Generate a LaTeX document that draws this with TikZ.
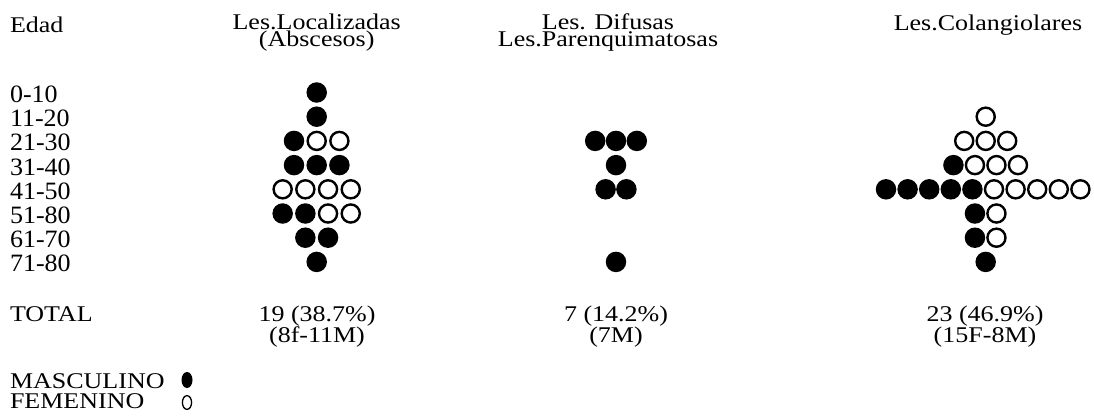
\documentclass[tikz,border=0pt]{standalone}
\usepackage{fontspec}
\setmainfont{Liberation Serif}
\usetikzlibrary{shapes.geometric}
\lineskiplimit=-30pt
\begin{document}
\begin{tikzpicture}[x=1pt,y=-1pt,
  txt/.style={inner sep=0pt, outer sep=0pt, font=\fontsize{26}{26}\selectfont, yscale=0.96},
  sq/.style={txt, yscale=0.9},
  hdr/.style={sq, align=center, font=\fontsize{26}{20}\selectfont},
  tot/.style={sq, align=center, font=\fontsize{26}{23.5}\selectfont},
  fdot/.style={circle, fill=black, minimum size=20.5pt, inner sep=0pt},
  odot/.style={circle, draw=black, line width=2.4pt, minimum size=18.1pt, inner sep=0pt},
  fleg/.style={ellipse, fill=black, minimum width=11pt, minimum height=16pt, inner sep=0pt},
  oleg/.style={ellipse, draw=black, line width=1.3pt, minimum width=9.2pt, minimum height=13.7pt, inner sep=0pt},
]
\fill[white] (0,0) rectangle (1094,416);
\useasboundingbox (0,0) rectangle (1094,416);

% headers (anchor base = baseline of the last line)
\node[sq, anchor=base west] (edad) at (10,32) {Edad};
\node[hdr, anchor=base] (h1) at (316.7,46.5) {Les.Localizadas\\(Abscesos)};
\node[hdr, anchor=base] (h2) at (608,46.5) {Les. Difusas\\Les.Parenquimatosas};
\node[hdr, anchor=base] (h3) at (988,30) {Les.Colangiolares};

% age labels
\foreach \lab [count=\i] in {0-10,11-20,21-30,31-40,41-50,51-80,61-70,71-80}
  \node[txt, anchor=base west] (age\i) at (10,{92.5+24.2*(\i-1)+10}) {\lab};

% column 1 : Les. Localizadas
\foreach \r/\lst in {1/{0/fdot}, 2/{0/fdot}, 3/{-1/fdot,0/odot,1/odot},
    4/{-1/fdot,0/fdot,1/fdot}, 5/{-1.5/odot,-0.5/odot,0.5/odot,1.5/odot},
    6/{-1.5/fdot,-0.5/fdot,0.5/odot,1.5/odot}, 7/{-0.5/fdot,0.5/fdot}, 8/{0/fdot}}
  \foreach \o/\t [count=\k] in \lst
    \node[\t] (a\r-\k) at ({316.7+\o*22.7},{92.5+24.2*(\r-1)}) {};

% column 2 : Les. Difusas
\foreach \r/\lst in {3/{-1/fdot,0/fdot,1/fdot}, 4/{0/fdot}, 5/{-0.5/fdot,0.5/fdot}, 8/{0/fdot}}
  \foreach \o/\t [count=\k] in \lst
    \node[\t] (b\r-\k) at ({616+\o*20.8},{92.5+24.2*(\r-1)}) {};

% column 3 : Les. Colangiolares
\foreach \r/\lst in {2/{0/odot}, 3/{-1/odot,0/odot,1/odot},
    4/{-1.5/fdot,-0.5/odot,0.5/odot,1.5/odot},
    6/{-0.5/fdot,0.5/odot}, 7/{-0.5/fdot,0.5/odot}, 8/{0/fdot}}
  \foreach \o/\t [count=\k] in \lst
    \node[\t] (c\r-\k) at ({985.7+\o*21.5},{92.5+24.2*(\r-1)}) {};
\foreach \t [count=\k] in {fdot,fdot,fdot,fdot,fdot,odot,odot,odot,odot,odot}
  \node[\t] (c5-\k) at ({886+(\k-1)*21.6},189.3) {};

% totals
\node[sq, anchor=base west] (total) at (10,321) {TOTAL};
\node[tot, anchor=base] (t1) at (317,342) {19 (38.7\%)\\(8f-11M)};
\node[tot, anchor=base] (t2) at (616,342) {7 (14.2\%)\\(7M)};
\node[tot, anchor=base] (t3) at (985,342) {23 (46.9\%)\\(15F-8M)};

% legend
\node[sq, anchor=base west] (masc) at (10,388) {MASCULINO};
\node[sq, anchor=base west] (fem) at (10,408) {FEMENINO};
\node[fleg] (lm) at (187,380) {};
\node[oleg] (lf) at (187,402.5) {};
\end{tikzpicture}
\end{document}
